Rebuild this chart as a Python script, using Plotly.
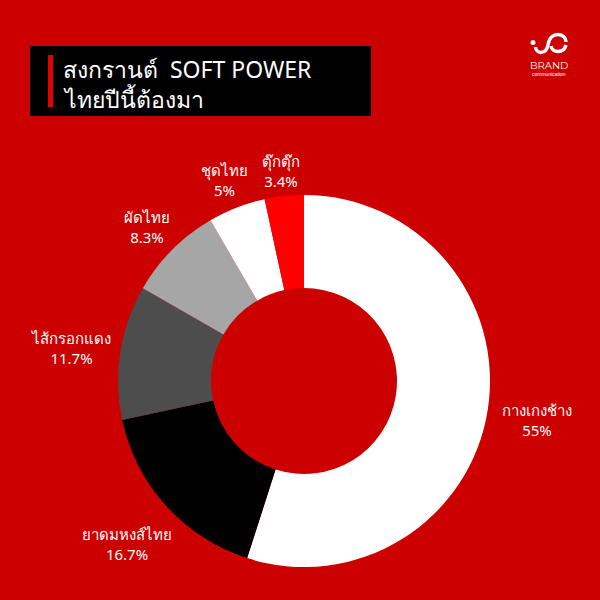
import math
import plotly.graph_objects as go

labels = ["กางเกงช้าง", "ยาดมหงส์ไทย", "ไส้กรอกแดง", "ผัดไทย", "ชุดไทย", "ตุ๊กตุ๊ก"]
values = [55, 16.7, 11.7, 8.3, 5, 3.4]
colors = ["#FFFFFF", "#000000", "#4D4D4D", "#A6A6A6", "#FFFFFF", "#FF0000"]

BG = "#CC0000"
W, H = 600, 600
FONT = "Noto Sans, Arial, sans-serif"

# pie placement (pixels)
CX, CY, R = 304, 381, 186

fig = go.Figure()
fig.add_trace(go.Pie(
    labels=labels, values=values, sort=False, direction="clockwise", rotation=0,
    hole=0.5,
    marker=dict(colors=colors, line=dict(color=BG, width=0)),
    textinfo="none",
    hoverinfo="skip",
    showlegend=False,
    domain=dict(x=[(CX - R) / W, (CX + R) / W], y=[(H - CY - R) / H, (H - CY + R) / H]),
))


def px(x):
    return x / W


def py(y):
    return 1 - y / H


COMBINING = set(chr(c) for c in [0x0E31] + list(range(0x0E34, 0x0E3B)) + list(range(0x0E47, 0x0E4F)))


def text_w(s, per=8.9):
    return sum(0 if ch in COMBINING else per for ch in s)


annotations = []
total = sum(values)
cum = 0.0
for lab, v in zip(labels, values):
    mid = (cum + v / 2) / total * 2 * math.pi
    cum += v
    sx, sy = math.sin(mid), -math.cos(mid)
    pct = f"{v:g}%"
    w = max(text_w(lab), text_w(pct))
    h = 38
    r = R + 7 + abs(sx) * w / 2 + abs(sy) * h / 2
    x = CX + r * sx
    y = CY + r * sy + 3
    annotations.append(dict(
        text=f"{lab}<br>{pct}", x=px(x), y=py(y), xref="paper", yref="paper",
        xanchor="center", yanchor="middle", showarrow=False, align="center",
        font=dict(color="white", size=15, family=FONT)))

shapes = [
    # title box
    dict(type="rect", xref="paper", yref="paper", x0=px(30), x1=px(371), y0=py(116), y1=py(46),
         fillcolor="black", line=dict(width=0), layer="below"),
    dict(type="rect", xref="paper", yref="paper", x0=px(48), x1=px(53), y0=py(107), y1=py(55),
         fillcolor="#E00000", line=dict(width=0)),
    # logo mark: U-curve flowing into an open loop
    dict(type="path", xref="paper", yref="paper",
         path=f"M {px(535.5)},{py(47)} C {px(536)},{py(54)} {px(546)},{py(55)} {px(548)},{py(45)} "
              f"C {px(549)},{py(37)} {px(554)},{py(34.5)} {px(558)},{py(34.5)} "
              f"C {px(563)},{py(34.5)} {px(566)},{py(38)} {px(566)},{py(42)}",
         line=dict(color="white", width=3.5)),
    dict(type="path", xref="paper", yref="paper",
         path=f"M {px(566)},{py(45)} C {px(565)},{py(49)} {px(562)},{py(51.5)} {px(558)},{py(51.5)} "
              f"C {px(554)},{py(51.5)} {px(551.5)},{py(49)} {px(551)},{py(46)}",
         line=dict(color="white", width=3.5)),
    dict(type="circle", xref="paper", yref="paper", x0=px(530.5), x1=px(535.5), y0=py(45), y1=py(40),
         fillcolor="white", line=dict(width=0)),
]

annotations += [
    dict(text="สงกรานต์  SOFT POWER", x=px(61), y=py(69), xref="paper", yref="paper",
         xanchor="left", yanchor="middle", showarrow=False,
         font=dict(color="white", size=23, family=FONT)),
    dict(text="ไทยปีนี้ต้องมา", x=px(61), y=py(99), xref="paper", yref="paper",
         xanchor="left", yanchor="middle", showarrow=False,
         font=dict(color="white", size=23, family=FONT)),
    dict(text="BRAND", x=px(549), y=py(66), xref="paper", yref="paper",
         xanchor="center", yanchor="middle", showarrow=False,
         font=dict(color="white", size=10, family="Montserrat, Arial, sans-serif")),
    dict(text="communication", x=px(549), y=py(74), xref="paper", yref="paper",
         xanchor="center", yanchor="middle", showarrow=False,
         font=dict(color="white", size=5, family="Arial, sans-serif")),
]

fig.update_layout(
    width=W, height=H,
    paper_bgcolor=BG, plot_bgcolor=BG,
    margin=dict(l=0, r=0, t=0, b=0),
    shapes=shapes, annotations=annotations,
)

fig.write_html("out.html", config={"displayModeBar": False},
               post_script="document.body.style.margin='0';")
